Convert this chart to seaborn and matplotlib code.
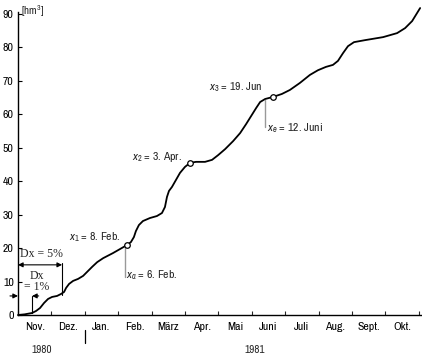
import matplotlib
matplotlib.use("Agg")
import matplotlib.pyplot as plt
import matplotlib.transforms as mtransforms
from matplotlib import font_manager as fm
import seaborn as sns
import numpy as np
import pandas as pd

# --- data (x in months since 1 Nov 1980, y in hm³) ---
month_pos = [0.00, 0.20, 0.42, 0.54, 0.66, 0.78, 0.90, 1.02, 1.17, 1.29, 1.38, 1.44, 1.53,
             1.65, 1.80, 1.95, 2.10, 2.22, 2.37, 2.55, 2.84, 3.05, 3.26, 3.38, 3.47, 3.53,
             3.62, 3.74, 3.95, 4.16, 4.31, 4.40, 4.46, 4.52, 4.61, 4.73, 4.85, 5.00, 5.15,
             5.33, 5.60, 5.81, 5.99, 6.20, 6.44, 6.65, 6.83, 6.98, 7.13, 7.25, 7.40, 7.63,
             7.90, 8.14, 8.44, 8.74, 8.98, 9.22, 9.43, 9.58, 9.73, 9.88, 10.06, 10.39,
             10.93, 11.35, 11.59, 11.80, 12.04]
volume = [0.0, 0.2, 0.6, 1.2, 2.1, 3.6, 4.8, 5.4, 5.7, 6.3, 6.9, 8.1, 9.3,
          10.2, 10.8, 11.7, 13.2, 14.4, 15.8, 17.0, 18.5, 19.7, 20.9, 21.8, 23.3, 25.1,
          26.9, 28.1, 29.0, 29.6, 30.5, 32.3, 35.3, 37.1, 38.3, 40.4, 42.5, 44.3, 45.5,
          45.8, 45.8, 46.4, 47.8, 49.6, 52.0, 54.4, 57.1, 59.5, 61.9, 63.7, 64.6, 65.2,
          66.1, 67.3, 69.4, 71.8, 73.2, 74.2, 74.8, 76.0, 78.3, 80.4, 81.6, 82.2,
          83.1, 84.3, 85.8, 87.9, 91.8]

months = ["Nov.", "Dez.", "Jan.", "Feb.", "März", "Apr.", "Mai", "Juni", "Juli",
          "Aug.", "Sept.", "Okt."]
y_ticks = [0, 10, 20, 30, 40, 50, 60, 70, 80, 90]
years = ["1980", "1981"]
year_pos = [0.72, 7.1]

marker_x = [3.26, 5.15, 7.63]
marker_y = [20.9, 45.5, 65.2]

sns.set_theme(style="white")

# pick a condensed sans if one is installed
stretch = "normal"
family = "DejaVu Sans"
cond_dv = [f for f in fm.fontManager.ttflist
           if f.name == "DejaVu Sans" and str(f.stretch) in ("condensed", "semi-condensed")]
narrow = sorted({f.name for f in fm.fontManager.ttflist
                 if ("Narrow" in f.name or "Condensed" in f.name) and "Serif" not in f.name
                 and "Mono" not in f.name})
if narrow:
    family = narrow[0]
elif cond_dv:
    stretch = "condensed"
plt.rcParams['font.family'] = [family, 'DejaVu Sans']
plt.rcParams['font.stretch'] = stretch
plt.rcParams['mathtext.fontset'] = 'custom'
plt.rcParams['mathtext.rm'] = family
plt.rcParams['mathtext.it'] = family + ':italic'
plt.rcParams['mathtext.bf'] = family + ':bold'

fig = plt.figure(figsize=(4.22, 3.6), dpi=100)
ax = fig.add_axes([18/422, 45/360, 404/422, 309.3/360])

df = pd.DataFrame({"x": month_pos, "y": volume})
sns.lineplot(data=df, x="x", y="y", ax=ax, color="black", lw=1.3, sort=False,
             clip_on=False)
ax.plot(marker_x, marker_y, "o", ms=4, mfc="white", mec="black", mew=0.9, zorder=5)

ax.set_xlim(0, 404/33.4)
ax.set_ylim(0, 92.5)
ax.set_xlabel("")
ax.set_ylabel("")

for s in ["top", "right"]:
    ax.spines[s].set_visible(False)
for s in ["left", "bottom"]:
    ax.spines[s].set_color("black")
    ax.spines[s].set_linewidth(1.0)
ax.spines["left"].set_bounds(0, 90.6)

ax.set_yticks(y_ticks)
ax.set_yticklabels([str(v) for v in y_ticks])
ax.tick_params(axis="y", direction="in", length=3, width=0.8, pad=3,
               labelsize=8.5, colors="black", left=True)

ax.set_xticks(np.arange(0, 13))
ax.set_xticklabels([])
ax.set_xticks(np.arange(0.5, 12), minor=True)
ax.set_xticklabels(months, minor=True)
ax.tick_params(axis="x", which="major", direction="in", length=3, width=0.8,
               bottom=True)
ax.tick_params(axis="x", which="minor", length=0, pad=5, labelsize=8.5,
               colors="black")

trans = mtransforms.blended_transform_factory(ax.transData, ax.transAxes)
for yr, xp in zip(years, year_pos):
    ax.text(xp, -0.113, yr, transform=trans, ha="center", va="center", fontsize=8)
ax.plot([2.0, 2.0], [-0.048, -0.09], transform=trans, color="black", lw=0.9,
        clip_on=False)

# unit label
ax.text(0.09, 90.8, "[hm$^3$]", ha="left", va="center", fontsize=8)

# annotations
fs = 8.5
ax.text(3.08, 23.3, r"$x_1$ = 8. Feb.", ha="right", va="center", fontsize=fs)
ax.text(3.24, 12.0, r"$x_a$ = 6. Feb.", ha="left", va="center", fontsize=fs)
ax.text(4.92, 47.2, r"$x_2$ = 3. Apr.", ha="right", va="center", fontsize=fs)
ax.text(7.32, 68.2, r"$x_3$ = 19. Jun", ha="right", va="center", fontsize=fs)
ax.text(7.46, 56.0, r"$x_e$ = 12. Juni", ha="left", va="center", fontsize=fs)

ax.plot([3.2, 3.2], [20.6, 11.4], color="#999999", lw=1.0)
ax.plot([7.4, 7.4], [64.4, 56.2], color="#999999", lw=1.0)

serif = ["Liberation Serif", "DejaVu Serif"]
# Dx = 5 %
ax.plot([1.32, 1.32], [15.6, 5.9], color="black", lw=0.8)
ax.annotate("", xy=(0.0, 15.0), xytext=(1.32, 15.0),
            arrowprops=dict(arrowstyle="<|-|>", color="black", lw=0.8,
                            mutation_scale=7, shrinkA=0, shrinkB=0))
ax.text(0.69, 18.3, "Dx = 5%", ha="center", va="center", fontsize=8.5, family=serif)

# Dx = 1 %
ax.plot([0.42, 0.42], [5.7, 0.6], color="black", lw=0.8)
ax.annotate("", xy=(0.0, 5.7), xytext=(-0.24, 5.7),
            arrowprops=dict(arrowstyle="-|>", color="black", lw=0.8,
                            mutation_scale=7, shrinkA=0, shrinkB=0),
            annotation_clip=False)
ax.annotate("", xy=(0.42, 5.7), xytext=(0.62, 5.7),
            arrowprops=dict(arrowstyle="-|>", color="black", lw=0.8,
                            mutation_scale=7, shrinkA=0, shrinkB=0))
ax.text(0.57, 11.7, "Dx", ha="center", va="center", fontsize=8.5, family=serif)
ax.text(0.55, 8.3, "= 1%", ha="center", va="center", fontsize=8.5, family=serif)

fig.savefig("out.png", dpi=100)
